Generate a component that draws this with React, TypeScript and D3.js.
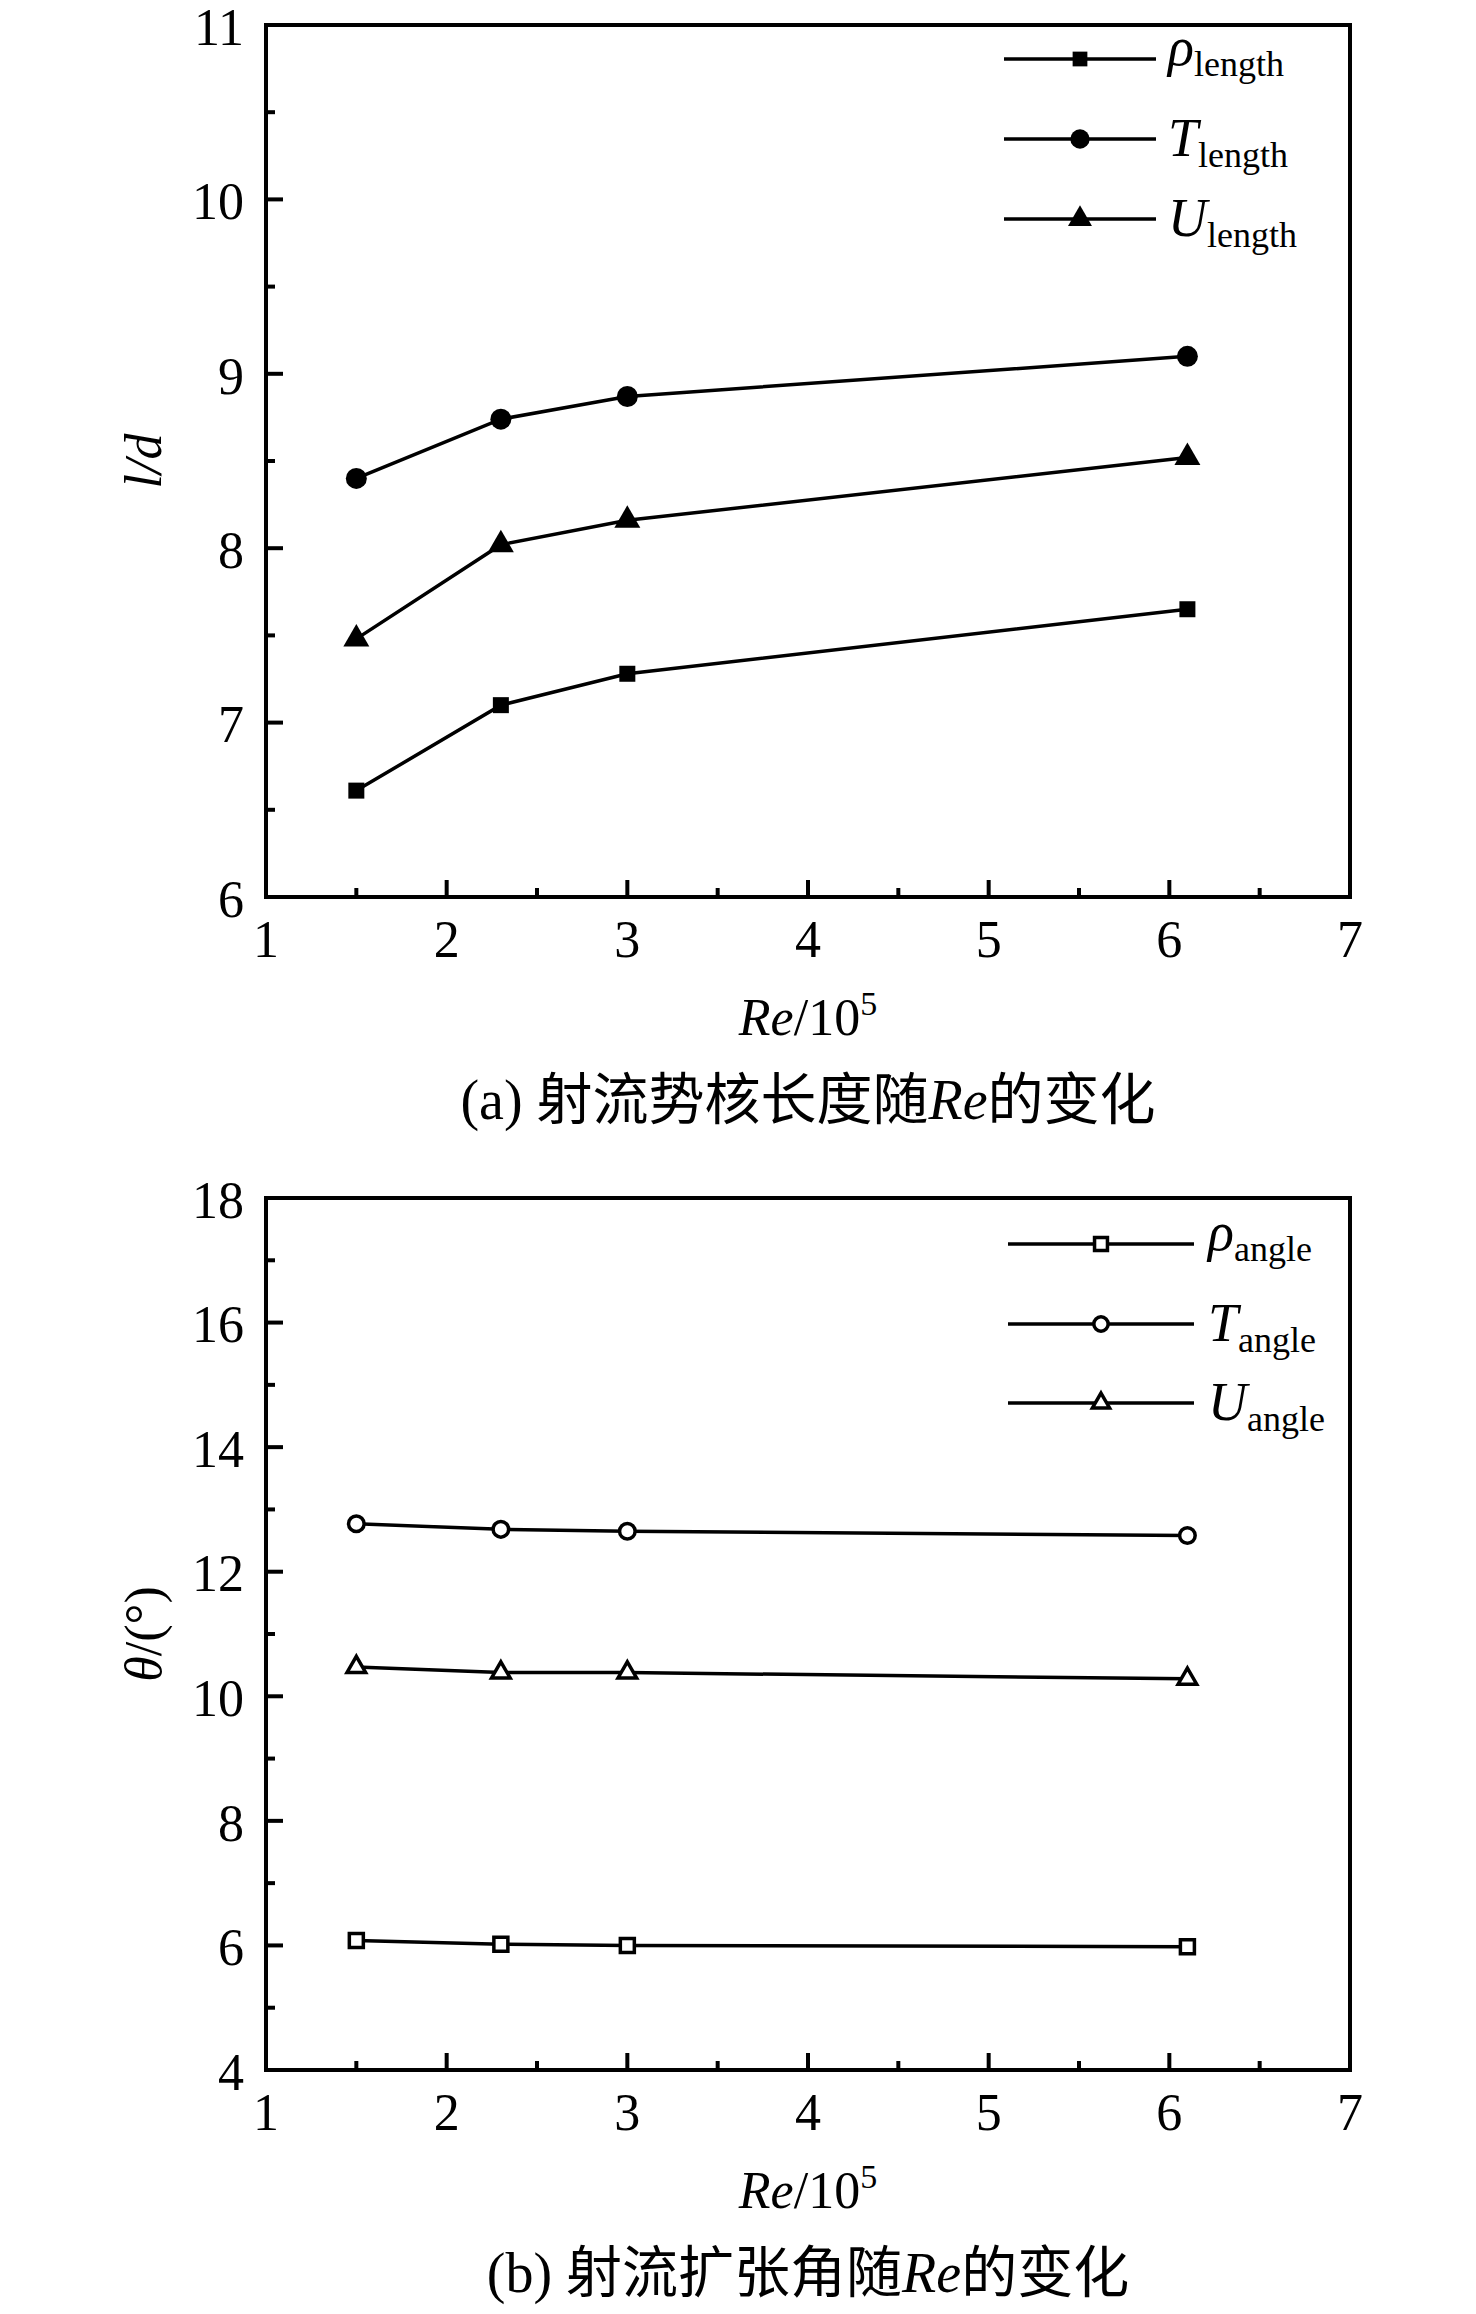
import * as d3 from 'd3';

// Re / 10^5 sampling positions
const reValues = [1.5, 2.3, 3.0, 6.1];

// (a) potential core length l/d
const rhoLength = [6.61, 7.1, 7.28, 7.65];
const tLength = [8.4, 8.74, 8.87, 9.1];
const uLength = [7.48, 8.02, 8.16, 8.52];

// (b) spreading angle θ/(°)
const rhoAngle = [6.08, 6.02, 6.0, 5.98];
const tAngle = [12.77, 12.68, 12.65, 12.58];
const uAngle = [10.47, 10.38, 10.38, 10.28];

const xTicks = [1, 2, 3, 4, 5, 6, 7];
const yTicksA = [6, 7, 8, 9, 10, 11];
const yTicksB = [4, 6, 8, 10, 12, 14, 16, 18];

const W = 1476, H = 2314;
const SERIF = '"Liberation Serif", "Times New Roman", serif';
const CJK = '"Noto Sans CJK SC", sans-serif';

type Series = { sym: d3.SymbolType; size: number; values: number[]; main: string; sub: string };

function Panel({ top, bottom, yDomain, yTicks, yMinorStep, series, filled, yTitle, caption, legend }: {
  top: number; bottom: number; yDomain: [number, number]; yTicks: number[]; yMinorStep: number;
  series: Series[]; filled: boolean; yTitle: JSX.Element; caption: JSX.Element;
  legend: { x1: number; x2: number; xm: number; xt: number; rows: number[] };
}) {
  const left = 266, right = 1350;
  const x = d3.scaleLinear().domain([1, 7]).range([left, right]);
  const y = d3.scaleLinear().domain(yDomain).range([bottom, top]);
  const line = d3.line<number>().x((_, i) => x(reValues[i])).y(d => y(d));
  const xMinor = d3.range(1.5, 7, 1);
  const yMinor = d3.range(yDomain[0] + yMinorStep, yDomain[1], yMinorStep * 2);
  const markStyle = filled
    ? { fill: '#000', stroke: 'none' }
    : { fill: '#fff', stroke: '#000', strokeWidth: 3.5 };
  const midX = (left + right) / 2;

  return (
    <g>
      {series.map((s, k) => (
        <path key={'l' + k} d={line(s.values) || ''} fill="none" stroke="#000" strokeWidth={3.5} />
      ))}
      {series.map((s, k) =>
        s.values.map((v, i) => (
          <path key={`m${k}-${i}`} transform={`translate(${x(reValues[i])},${y(v)})`}
            d={d3.symbol().type(s.sym).size(s.size)() || ''} {...markStyle} />
        ))
      )}

      {/* ticks (inward, left & bottom only) */}
      {xTicks.map(t => <line key={'xt' + t} x1={x(t)} x2={x(t)} y1={bottom} y2={bottom - 17} stroke="#000" strokeWidth={4} />)}
      {xMinor.map(t => <line key={'xm' + t} x1={x(t)} x2={x(t)} y1={bottom} y2={bottom - 9} stroke="#000" strokeWidth={4} />)}
      {yTicks.map(t => <line key={'yt' + t} x1={left} x2={left + 17} y1={y(t)} y2={y(t)} stroke="#000" strokeWidth={4} />)}
      {yMinor.map(t => <line key={'ym' + t} x1={left} x2={left + 9} y1={y(t)} y2={y(t)} stroke="#000" strokeWidth={4} />)}
      <rect x={left} y={top} width={right - left} height={bottom - top} fill="none" stroke="#000" strokeWidth={4} />

      {xTicks.map(t => (
        <text key={'xl' + t} x={x(t)} y={bottom + 60} textAnchor="middle" fontFamily={SERIF} fontSize={52}>{t}</text>
      ))}
      {yTicks.map(t => (
        <text key={'yl' + t} x={244} y={y(t)} dy="0.38em" textAnchor="end" fontFamily={SERIF} fontSize={52}>{t}</text>
      ))}

      <text x={midX} y={bottom + 138} textAnchor="middle" fontFamily={SERIF} fontSize={52}>
        <tspan fontStyle="italic">Re</tspan>/10<tspan fontSize={34} dy={-20}>5</tspan>
      </text>
      <g transform={`translate(143,${(top + bottom) / 2}) rotate(-90)`}>{yTitle}</g>
      <text x={midX} y={bottom + 222} textAnchor="middle" fontSize={56}>{caption}</text>

      {series.map((s, k) => {
        const ry = legend.rows[k];
        return (
          <g key={'lg' + k}>
            <line x1={legend.x1} x2={legend.x2} y1={ry} y2={ry} stroke="#000" strokeWidth={3.5} />
            <path transform={`translate(${legend.xm},${ry})`} d={d3.symbol().type(s.sym).size(s.size * 0.85)() || ''} {...markStyle} />
            <text x={legend.xt} y={ry + (k === 0 ? 6 : 17)} fontFamily={SERIF} fontSize={54}>
              <tspan fontStyle="italic">{s.main}</tspan>
              <tspan fontSize={36} dy={11}>{s.sub}</tspan>
            </text>
          </g>
        );
      })}
    </g>
  );
}

export default function App() {
  const seriesA: Series[] = [
    { sym: d3.symbolSquare, size: 256, values: rhoLength, main: 'ρ', sub: 'length' },
    { sym: d3.symbolCircle, size: 346, values: tLength, main: 'T', sub: 'length' },
    { sym: d3.symbolTriangle, size: 292, values: uLength, main: 'U', sub: 'length' },
  ];
  const seriesB: Series[] = [
    { sym: d3.symbolSquare, size: 196, values: rhoAngle, main: 'ρ', sub: 'angle' },
    { sym: d3.symbolCircle, size: 190, values: tAngle, main: 'T', sub: 'angle' },
    { sym: d3.symbolTriangle, size: 150, values: uAngle, main: 'U', sub: 'angle' },
  ];

  return (
    <svg width={W} height={H} viewBox={`0 0 ${W} ${H}`}
      style={{ position: 'absolute', left: 0, top: 0, background: '#fff' }}>
      <rect width={W} height={H} fill="#fff" />
      <Panel top={25} bottom={897} yDomain={[6, 11]} yTicks={yTicksA} yMinorStep={0.5}
        series={seriesA} filled
        yTitle={<text textAnchor="middle" dy="0.35em" fontFamily={SERIF} fontSize={52} fontStyle="italic">l/d</text>}
        caption={<>
          <tspan fontFamily={SERIF}>(a) </tspan>
          <tspan fontFamily={CJK}>射流势核长度随</tspan>
          <tspan fontFamily={SERIF} fontStyle="italic">Re</tspan>
          <tspan fontFamily={CJK}>的变化</tspan>
        </>}
        legend={{ x1: 1004, x2: 1156, xm: 1080, xt: 1168, rows: [59, 139, 219] }} />
      <Panel top={1198} bottom={2070} yDomain={[4, 18]} yTicks={yTicksB} yMinorStep={1}
        series={seriesB} filled={false}
        yTitle={<text textAnchor="middle" dy="0.35em" fontFamily={SERIF} fontSize={52}>
          <tspan fontStyle="italic">θ</tspan>/(°)</text>}
        caption={<>
          <tspan fontFamily={SERIF}>(b) </tspan>
          <tspan fontFamily={CJK}>射流扩张角随</tspan>
          <tspan fontFamily={SERIF} fontStyle="italic">Re</tspan>
          <tspan fontFamily={CJK}>的变化</tspan>
        </>}
        legend={{ x1: 1008, x2: 1194, xm: 1101, xt: 1208, rows: [1244, 1324, 1403] }} />
    </svg>
  );
}
